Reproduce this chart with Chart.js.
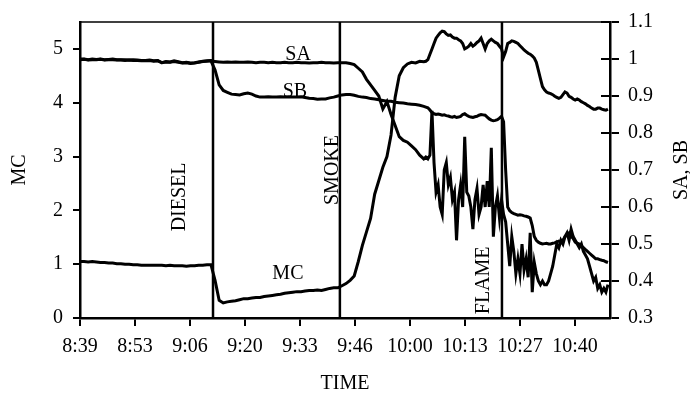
<!DOCTYPE html>
<html>
<head>
<meta charset="utf-8">
<script src="https://cdn.jsdelivr.net/npm/chart.js@4"></script>
<style>
  body { margin: 0; background: #fff; }
  canvas { display: block; }
</style>
</head>
<body>
<canvas id="sensorChart" width="690" height="396"></canvas>
<script>
// time in minutes since midnight: one reading per minute until 10:03,
// then every half minute through the noisy part (8:39 .. 10:48)
const times = [
  519, 520, 521, 522, 523, 524, 525, 526, 527, 528,
  529, 530, 531, 532, 533, 534, 535, 536, 537, 538,
  539, 540, 541, 542, 543, 544, 545, 546, 547, 548,
  549, 550, 551, 552, 553, 554, 555, 556, 557, 558,
  559, 560, 561, 562, 563, 564, 565, 566, 567, 568,
  569, 570, 571, 572, 573, 574, 575, 576, 577, 578,
  579, 580, 581, 582, 583, 584, 585, 586, 587, 588,
  589, 590, 591, 592, 593, 594, 595, 596, 597, 598,
  599, 600, 601, 602, 603,
  603.5, 604, 604.5, 605, 605.5, 606, 606.5, 607, 607.5, 608,
  608.5, 609, 609.5, 610, 610.5, 611, 611.5, 612, 612.5, 613,
  613.5, 614, 614.5, 615, 615.5, 616, 616.5, 617, 617.5, 618,
  618.5, 619, 619.5, 620, 620.5, 621, 621.5, 622, 622.5, 623,
  623.5, 624, 624.5, 625, 625.5, 626, 626.5, 627, 627.5, 628,
  628.5, 629, 629.5, 630, 630.5, 631, 631.5, 632, 632.5, 633,
  633.5, 634, 634.5, 635, 635.5, 636, 636.5, 637, 637.5, 638,
  638.5, 639, 639.5, 640, 640.5, 641, 641.5, 642, 642.5, 643,
  643.5, 644, 644.5, 645, 645.5, 646, 646.5, 647, 647.5, 648
];

const mc = [
  1.05, 1.05, 1.04, 1.05, 1.04, 1.03, 1.03, 1.02, 1.02, 1.01,
  1.01, 1.0, 1.0, 0.99, 0.99, 0.98, 0.98, 0.98, 0.98, 0.98,
  0.98, 0.97, 0.98, 0.97, 0.97, 0.97, 0.96, 0.97, 0.97, 0.98,
  0.98, 0.99, 0.99, 0.7, 0.33, 0.28, 0.3, 0.31, 0.32, 0.34,
  0.36, 0.36, 0.37, 0.38, 0.38, 0.4, 0.41, 0.42, 0.43, 0.44,
  0.46, 0.47, 0.48, 0.49, 0.49, 0.5, 0.51, 0.51, 0.52, 0.51,
  0.53, 0.55, 0.56, 0.56, 0.6, 0.64, 0.7, 0.78, 1.05, 1.35,
  1.6, 1.85, 2.3, 2.55, 2.8, 3.0, 3.4, 4.1, 4.5, 4.65,
  4.72, 4.75, 4.74, 4.77, 4.76,
  4.77, 4.8, 4.9, 5.0, 5.1, 5.2, 5.25, 5.3, 5.33, 5.32,
  5.28, 5.25, 5.26, 5.22, 5.2, 5.2, 5.17, 5.15, 5.1, 5.0,
  5.02, 5.05, 5.1, 5.05, 5.08, 5.12, 5.15, 5.2, 5.1, 5.0,
  5.1, 5.15, 5.18, 5.15, 5.12, 5.1, 5.05, 5.0, 4.85, 4.95,
  5.1, 5.12, 5.15, 5.14, 5.12, 5.1, 5.06, 5.02, 4.98, 4.95,
  4.92, 4.9, 4.87, 4.83, 4.75, 4.6, 4.45, 4.3, 4.24, 4.2,
  4.18, 4.17, 4.15, 4.12, 4.1, 4.08, 4.1, 4.15, 4.2, 4.18,
  4.12, 4.1, 4.07, 4.05, 4.07, 4.05, 4.02, 4.0, 3.98, 3.95,
  3.93, 3.9, 3.88, 3.88, 3.9, 3.9, 3.88, 3.87, 3.86, 3.88
];

const sa = [
  1.0, 1.0, 0.998, 1.0, 0.999, 1.0, 0.998, 0.999, 1.0, 0.998,
  0.998, 0.998, 0.997, 0.998, 0.997, 0.996, 0.996, 0.997, 0.995, 0.996,
  0.99, 0.993, 0.992, 0.995, 0.993, 0.99, 0.991, 0.989, 0.99, 0.992,
  0.994, 0.995, 0.996, 0.993, 0.992, 0.991, 0.992, 0.991, 0.992, 0.991,
  0.991, 0.992, 0.991, 0.99, 0.991, 0.991, 0.99, 0.991, 0.99, 0.99,
  0.991, 0.99, 0.99, 0.991, 0.99, 0.99, 0.989, 0.99, 0.99, 0.991,
  0.99, 0.99, 0.989, 0.99, 0.99, 0.99, 0.988, 0.985, 0.975, 0.965,
  0.945, 0.93, 0.915, 0.9, 0.865, 0.885, 0.85, 0.82, 0.79, 0.78,
  0.775, 0.765, 0.755, 0.74, 0.73,
  0.735, 0.73, 0.74, 0.86, 0.72, 0.64, 0.66, 0.6, 0.58, 0.7,
  0.72, 0.66, 0.68, 0.62, 0.64, 0.51, 0.62, 0.66, 0.6, 0.79,
  0.64, 0.63, 0.6, 0.54, 0.62, 0.65, 0.58, 0.6, 0.66, 0.6,
  0.67, 0.6, 0.76, 0.52, 0.6, 0.63, 0.57, 0.62, 0.58, 0.56,
  0.5, 0.44, 0.52, 0.48, 0.42, 0.46, 0.42, 0.5, 0.43, 0.46,
  0.41, 0.53, 0.37, 0.45, 0.42, 0.4, 0.39, 0.4, 0.39, 0.39,
  0.4, 0.42, 0.44, 0.47, 0.5, 0.49, 0.51, 0.5, 0.52, 0.53,
  0.51, 0.54, 0.52, 0.51, 0.5, 0.49, 0.5, 0.48, 0.47, 0.46,
  0.44, 0.42, 0.4, 0.41, 0.38, 0.39, 0.37, 0.38, 0.37, 0.39
];

const sb = [
  0.998, 0.999, 0.997, 0.998, 0.998, 0.999, 0.997, 0.998, 0.998, 0.997,
  0.997, 0.996, 0.997, 0.996, 0.996, 0.995, 0.995, 0.996, 0.994, 0.995,
  0.99, 0.992, 0.991, 0.993, 0.991, 0.989, 0.99, 0.988, 0.989, 0.991,
  0.993, 0.994, 0.995, 0.97, 0.93, 0.915, 0.91, 0.905, 0.904, 0.903,
  0.906, 0.908, 0.905, 0.9, 0.897, 0.897, 0.898, 0.897, 0.897, 0.898,
  0.897, 0.898, 0.897, 0.897, 0.898, 0.896, 0.894, 0.893, 0.891, 0.892,
  0.892, 0.895, 0.897, 0.9, 0.903, 0.904, 0.904, 0.902, 0.899, 0.897,
  0.896, 0.893, 0.892, 0.89, 0.888, 0.886, 0.886, 0.883, 0.882, 0.881,
  0.879, 0.878, 0.877, 0.875, 0.872,
  0.87, 0.868, 0.862, 0.855, 0.852, 0.85, 0.851, 0.85, 0.848, 0.849,
  0.847, 0.846, 0.844, 0.843, 0.845, 0.842, 0.843, 0.845, 0.85, 0.852,
  0.848, 0.845, 0.843, 0.842, 0.844, 0.845, 0.848, 0.85, 0.849, 0.848,
  0.843, 0.838, 0.835, 0.833, 0.834, 0.836, 0.84, 0.845, 0.83, 0.7,
  0.6, 0.59, 0.585, 0.582, 0.58, 0.578, 0.579, 0.578, 0.576, 0.575,
  0.573, 0.57, 0.55, 0.52, 0.51, 0.505, 0.502, 0.5, 0.501, 0.502,
  0.5, 0.5, 0.502, 0.503, 0.506, 0.508, 0.505, 0.51, 0.52, 0.525,
  0.53, 0.52, 0.515, 0.505, 0.502, 0.5, 0.495, 0.49, 0.485, 0.48,
  0.475, 0.47, 0.465, 0.46, 0.46, 0.458, 0.456, 0.455, 0.452, 0.45
];

const timeTicks = [519, 532.44, 545.88, 559.32, 572.76, 586.2, 599.64, 613.08, 626.52, 639.96];
const timeLabels = ['8:39', '8:53', '9:06', '9:20', '9:33', '9:46', '10:00', '10:13', '10:27', '10:40'];
const mcTicks = [0, 1, 2, 3, 4, 5];
const sTicks = [0.3, 0.4, 0.5, 0.6, 0.7, 0.8, 0.9, 1.0, 1.1];

const eventTimes = [551.5, 582.5, 622.1];
const eventLabels = ['DIESEL', 'SMOKE', 'FLAME'];

const FONT = '"Liberation Serif", "Times New Roman", serif';

const pts = vals => vals.map((v, i) => ({ x: times[i], y: v }));

// event lines, inner ticks on the right axis, and the loose text labels
const decorations = {
    id: 'decorations',
    afterDatasetsDraw(chart) {
        const { ctx, chartArea: a, scales } = chart;
        ctx.save();
        ctx.strokeStyle = '#000';
        ctx.lineWidth = 1.5;
        ctx.beginPath();
        ctx.moveTo(a.left, a.top);
        ctx.lineTo(a.right, a.top);
        ctx.stroke();

        ctx.lineWidth = 2.5;
        eventTimes.forEach(t => {
            const x = scales.x.getPixelForValue(t);
            ctx.beginPath();
            ctx.moveTo(x, a.top);
            ctx.lineTo(x, a.bottom);
            ctx.stroke();
        });

        ctx.lineWidth = 2;
        scales.y1.ticks.forEach(tk => {
            const y = scales.y1.getPixelForValue(tk.value);
            ctx.beginPath();
            ctx.moveTo(a.right - 9, y);
            ctx.lineTo(a.right, y);
            ctx.stroke();
        });

        ctx.fillStyle = '#000';
        ctx.font = '20px ' + FONT;
        ctx.textAlign = 'center';
        ctx.textBaseline = 'middle';

        const eventPos = [{ dx: -33, y: 2.25 }, { dx: -7, y: 2.75 }, { dx: -18, y: 0.7 }];
        eventLabels.forEach((txt, i) => {
            const x = scales.x.getPixelForValue(eventTimes[i]) + eventPos[i].dx;
            const y = scales.y.getPixelForValue(eventPos[i].y);
            ctx.save();
            ctx.translate(x, y);
            ctx.rotate(-Math.PI / 2);
            ctx.fillText(txt, 0, 0);
            ctx.restore();
        });

        const tags = [
            { text: 'SA', x: 572.3, y: 1.012, axis: 'y1' },
            { text: 'SB', x: 571.5, y: 0.912, axis: 'y1' },
            { text: 'MC', x: 569.8, y: 0.82, axis: 'y' }
        ];
        tags.forEach(t => {
            ctx.fillText(t.text, scales.x.getPixelForValue(t.x), scales[t.axis].getPixelForValue(t.y));
        });

        // right axis title reads bottom to top, like the left one
        ctx.save();
        ctx.translate(682, (a.top + a.bottom) / 2);
        ctx.rotate(-Math.PI / 2);
        ctx.fillText('SA, SB', 0, 0);
        ctx.restore();
        ctx.restore();
    }
};

const line = (label, data, axis) => ({
    label,
    data: pts(data),
    yAxisID: axis,
    borderColor: '#000',
    borderWidth: 3,
    pointRadius: 0,
    tension: 0,
    fill: false
});

new Chart(document.getElementById('sensorChart').getContext('2d'), {
    type: 'line',
    data: {
        datasets: [
            line('SA', sa, 'y1'),
            line('SB', sb, 'y1'),
            line('MC', mc, 'y')
        ]
    },
    options: {
        responsive: false,
        animation: false,
        devicePixelRatio: 1,
        layout: { padding: { top: 22, left: 0, right: 0, bottom: 0 } },
        plugins: {
            legend: { display: false },
            tooltip: { enabled: false }
        },
        scales: {
            x: {
                type: 'linear',
                min: 519,
                max: 648.5,
                afterFit: s => { s.height = 78; },
                afterBuildTicks: s => { s.ticks = timeTicks.map(v => ({ value: v })); },
                ticks: {
                    autoSkip: false,
                    maxRotation: 0,
                    padding: 9,
                    color: '#000',
                    font: { family: FONT, size: 20 },
                    callback: (v, i) => timeLabels[i]
                },
                grid: { drawOnChartArea: false, tickLength: 8, color: '#000', lineWidth: 2 },
                border: { color: '#000', width: 2.5 },
                title: {
                    display: true,
                    text: 'TIME',
                    color: '#000',
                    font: { family: FONT, size: 20 },
                    padding: { top: 0, bottom: 0 }
                }
            },
            y: {
                position: 'left',
                min: 0,
                max: 5.5,
                afterFit: s => { s.width = 80; },
                afterBuildTicks: s => { s.ticks = mcTicks.map(v => ({ value: v })); },
                ticks: {
                    padding: 10,
                    color: '#000',
                    font: { family: FONT, size: 20 }
                },
                grid: { drawOnChartArea: false, tickLength: 7, color: '#000', lineWidth: 2 },
                border: { color: '#000', width: 2.5 },
                title: {
                    display: true,
                    text: 'MC',
                    color: '#000',
                    font: { family: FONT, size: 20 },
                    padding: { top: 8, bottom: 0 }
                }
            },
            y1: {
                position: 'right',
                min: 0.3,
                max: 1.1,
                afterFit: s => { s.width = 80; },
                afterBuildTicks: s => { s.ticks = sTicks.map(v => ({ value: v })); },
                ticks: {
                    padding: 9,
                    color: '#000',
                    font: { family: FONT, size: 20 },
                    callback: v => String(Number(v.toFixed(1)))
                },
                grid: { drawOnChartArea: false, tickLength: 9, color: '#000', lineWidth: 2 },
                border: { color: '#000', width: 2.5 }
            }
        }
    },
    plugins: [decorations]
});
</script>
</body>
</html>
